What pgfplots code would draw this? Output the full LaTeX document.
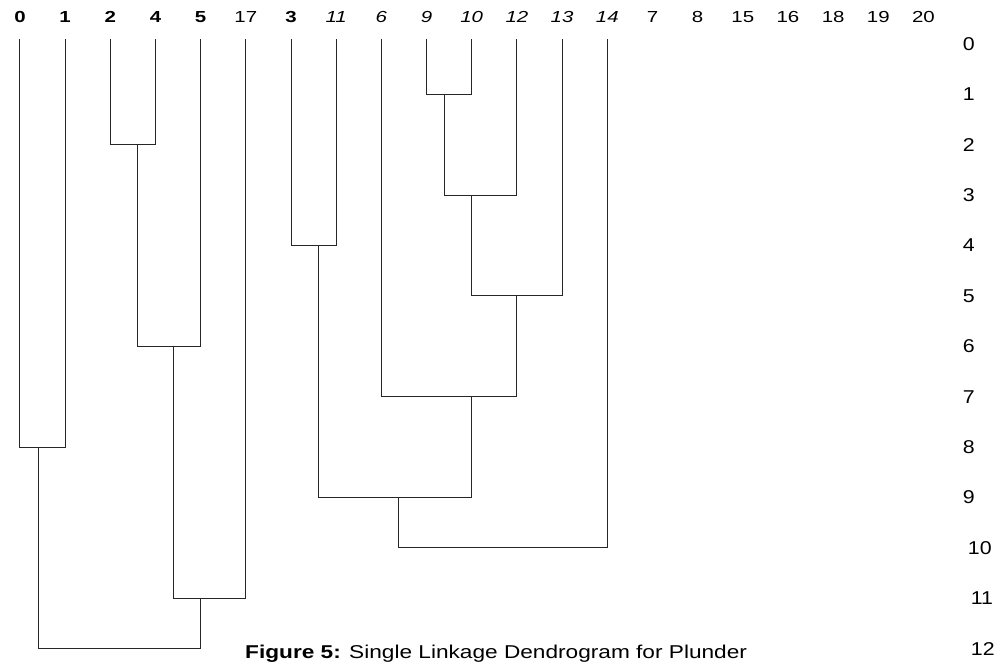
\documentclass[border=0pt]{standalone}
\usepackage{fontspec}
\setmainfont{Liberation Sans}
\usepackage{graphicx}
\usepackage{pgfplots}
\pgfplotsset{compat=1.18}
\tikzset{dendro/.style={black!85, line width=0.5pt, mark=none, solid}}
\newcommand{\hs}[1]{\scalebox{1.28}[1]{#1}}
\newcommand{\ys}[1]{\scalebox{1.15}[1]{#1}}
\begin{document}
\fontsize{8}{9.6}\selectfont
\begin{tikzpicture}
\begin{axis}[
  x=22.635pt, y=25.25pt, y dir=reverse,
  xmin=-0.3, xmax=20.76, ymin=-0.1, ymax=12.3,
  clip=false,
  axis line style={draw=none},
  major tick length=0pt, tick style={draw=none},
  xtick={0,...,20},
  xticklabels={\hs{\textbf{0}},\hs{\textbf{1}},\hs{\textbf{2}},\hs{\textbf{4}},\hs{\textbf{5}},\hs{17},\hs{\textbf{3}},\hs{\textit{11}},\hs{\textit{6}},\hs{\textit{9}},\hs{\textit{10}},\hs{\textit{12}},\hs{\textit{13}},\hs{\textit{14}},\hs{7},\hs{8},\hs{15},\hs{16},\hs{18},\hs{19},\hs{20}},
  xticklabel pos=upper,
  xticklabel style={anchor=south, yshift=5.3pt, font=\fontsize{8}{9.6}\selectfont},
  ytick={0,...,12},
  yticklabels={\ys{0},\ys{1},\ys{2},\ys{3},\ys{4},\ys{5},\ys{6},\ys{7},\ys{8},\ys{9},\hspace{2.5pt}\ys{10},\hspace{4pt}\ys{11},\hspace{4pt}\ys{12}},
  yticklabel pos=right,
  yticklabel style={anchor=west, xshift=-0.3pt, font=\fontsize{9.3}{11}\selectfont},
]
% A: 9 & 10 at 1
\addplot[dendro] coordinates {(9,-0.1) (9,1) (10,1) (10,-0.1)};
% B: 2 & 4 at 2
\addplot[dendro] coordinates {(2,-0.1) (2,2) (3,2) (3,-0.1)};
% C: A & 12 at 3
\addplot[dendro] coordinates {(9.40,1) (9.40,3) (11,3) (11,-0.1)};
% D: 3 & 11 at 4
\addplot[dendro] coordinates {(6,-0.1) (6,4) (7,4) (7,-0.1)};
% E: C & 13 at 5
\addplot[dendro] coordinates {(10,3) (10,5) (12,5) (12,-0.1)};
% BB: B & 5 at 6
\addplot[dendro] coordinates {(2.60,2) (2.60,6) (4,6) (4,-0.1)};
% F: 6 & E at 7
\addplot[dendro] coordinates {(8,-0.1) (8,7) (11,7) (11,5)};
% I: 0 & 1 at 8
\addplot[dendro] coordinates {(0,-0.1) (0,8) (1,8) (1,-0.1)};
% G: D & F at 9
\addplot[dendro] coordinates {(6.60,4) (6.60,9) (10,9) (10,7)};
% H: G & 14 at 10
\addplot[dendro] coordinates {(8.39,9) (8.39,10) (13,10) (13,-0.1)};
% J: BB & 17 at 11
\addplot[dendro] coordinates {(3.40,6) (3.40,11) (5,11) (5,-0.1)};
% K: I & J at 12
\addplot[dendro] coordinates {(0.41,8) (0.41,12) (4.0,12) (4.0,11)};
\node[anchor=base, font=\fontsize{9.3}{11}\selectfont] at (axis cs:10.54,12.198) {\scalebox{1.22}[1]{\textbf{Figure 5:} Single Linkage Dendrogram for Plunder}};
\path (axis cs:-0.442,-0.871) (axis cs:21.65,12.277);
\end{axis}
\end{tikzpicture}
\end{document}
